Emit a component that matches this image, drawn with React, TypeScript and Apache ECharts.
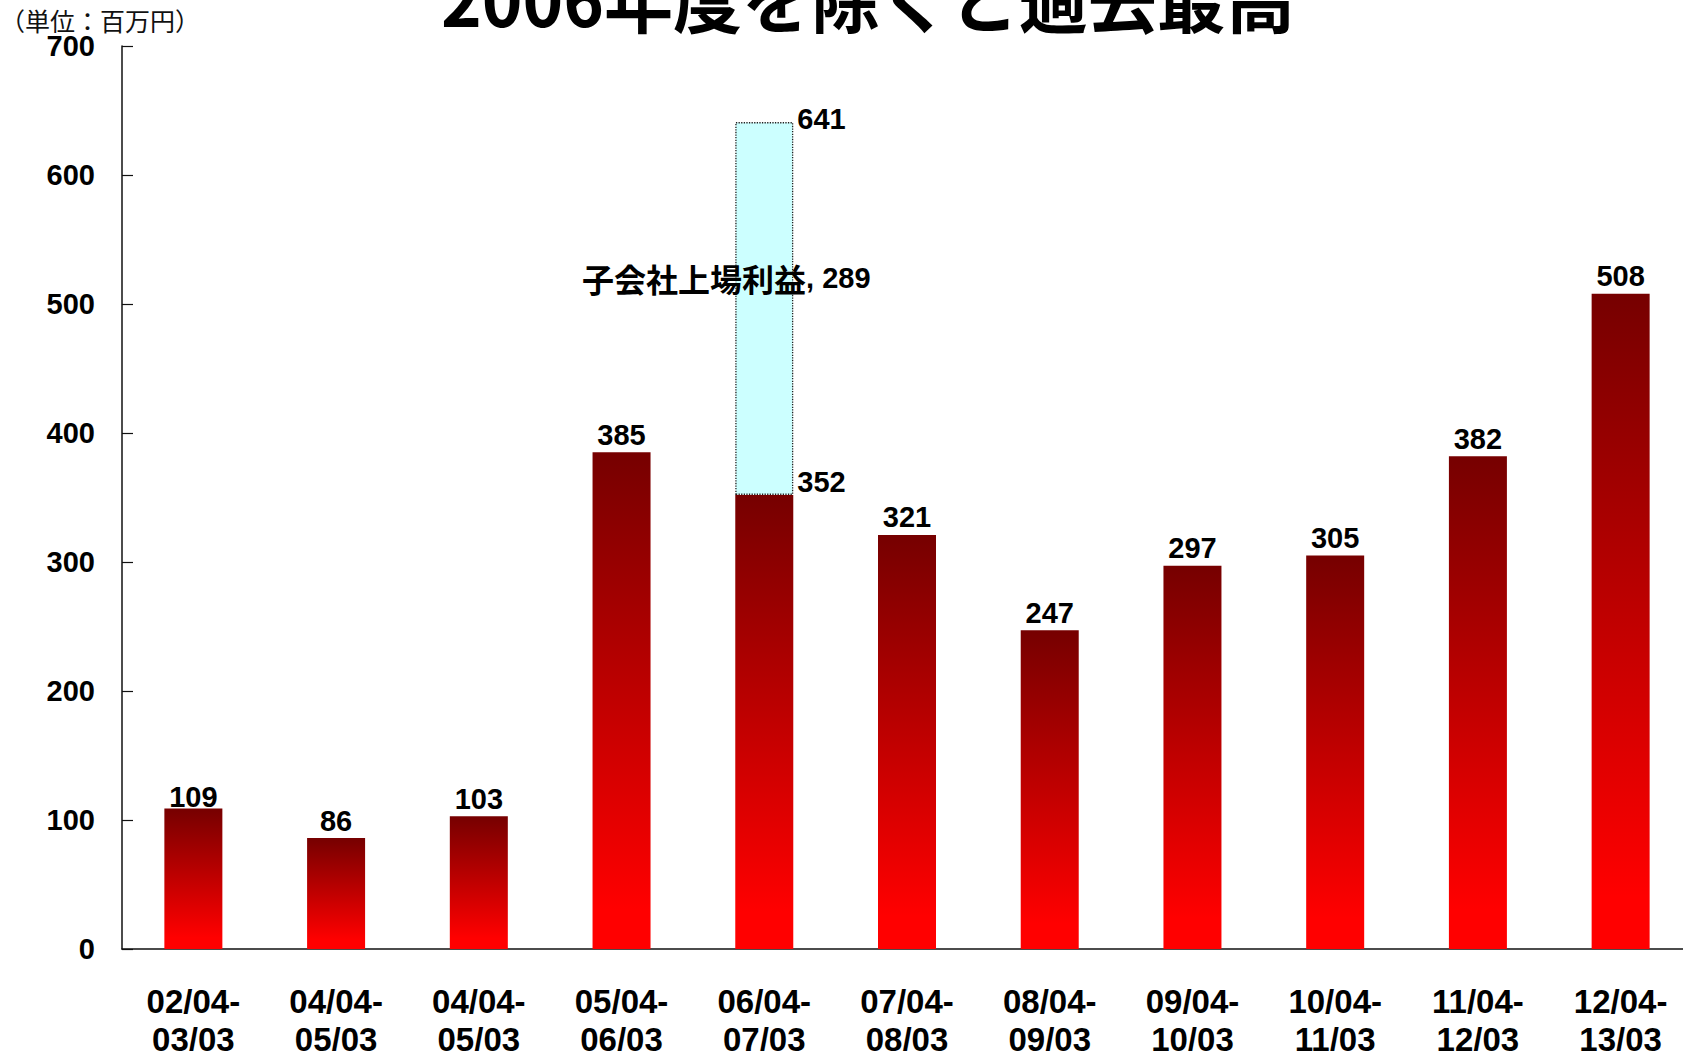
import React, { useEffect, useRef } from "react";
import * as echarts from "echarts";

const categories = [
  "02/04-\n03/03",
  "04/04-\n05/03",
  "04/04-\n05/03",
  "05/04-\n06/03",
  "06/04-\n07/03",
  "07/04-\n08/03",
  "08/04-\n09/03",
  "09/04-\n10/03",
  "10/04-\n11/03",
  "11/04-\n12/03",
  "12/04-\n13/03",
];
const profitValues = [109, 86, 103, 385, 352, 321, 247, 297, 305, 382, 508];
const listingGainValues: (number | null)[] = [null, null, null, null, 289, null, null, null, null, null, null];
const listingGainName = "子会社上場利益";
const yTicks = { min: 0, max: 700, interval: 100 };
const titleText = "2006年度を除くと過去最高";
const unitText = "（単位：百万円）";

const SANS = '"Liberation Sans", Arial, sans-serif';
const CJK = '"Noto Sans CJK JP", "Liberation Sans", sans-serif';

export default function App() {
  const ref = useRef<HTMLDivElement>(null);
  useEffect(() => {
    if (!ref.current) return;
    const chart = echarts.init(ref.current, null, { renderer: "svg" });
    const highlightIdx = listingGainValues.findIndex((v) => v != null);
    const total = profitValues[highlightIdx] + (listingGainValues[highlightIdx] as number);
    const totalMarker = profitValues.map((_, i) => (i === highlightIdx ? 0 : null));

    const gradient = new echarts.graphic.LinearGradient(0, 0, 0, 1, [
      { offset: 0, color: "#760000" },
      { offset: 0.92, color: "#ff0000" },
      { offset: 1, color: "#ff0000" },
    ]);

    const valueLabel = {
      fontFamily: SANS,
      fontWeight: "bold",
      fontSize: 29,
      lineHeight: 29,
      color: "#000",
    };

    const profitData = profitValues.map((v, i) => {
      if (i === highlightIdx) {
        return {
          value: v,
          label: {
            show: true,
            position: ["100%", 0],
            align: "left",
            verticalAlign: "middle",
            offset: [4, -13],
          },
        };
      }
      if (i === 0) {
        return { value: v, label: { offset: [0, 6] } };
      }
      return v;
    });

    chart.setOption({
      animation: false,
      backgroundColor: "#ffffff",
      textStyle: { fontFamily: SANS },
      grid: {
        left: 122,
        right: -9,
        top: 46,
        bottom: 102,
        containLabel: false,
        outerBoundsMode: "none",
      },
      graphic: [
        {
          type: "text",
          left: 0,
          top: 7,
          style: { text: unitText, font: `25px ${CJK}`, fill: "#111" },
        },
        {
          type: "text",
          x: 868,
          y: -5,
          scaleX: 0.96,
          style: {
            text: titleText,
            font: `bold 72px ${CJK}`,
            fill: "#000",
            align: "center",
            verticalAlign: "middle",
          },
        },
      ],
      xAxis: {
        type: "category",
        data: categories,
        axisLine: { lineStyle: { color: "#111", width: 1.5 } },
        axisTick: { inside: true, length: 11, alignWithLabel: false, lineStyle: { color: "#111", width: 1.2 } },
        axisLabel: {
          interval: 0,
          margin: 33,
          fontFamily: SANS,
          fontWeight: "bold",
          fontSize: 33,
          lineHeight: 38,
          color: "#000",
        },
        splitLine: { show: false },
      },
      yAxis: {
        type: "value",
        min: yTicks.min,
        max: yTicks.max,
        interval: yTicks.interval,
        axisLine: { show: true, lineStyle: { color: "#111", width: 1.5 } },
        axisTick: { show: true, inside: true, length: 11, lineStyle: { color: "#111", width: 1.2 } },
        axisLabel: { margin: 27, fontFamily: SANS, fontWeight: "bold", fontSize: 29, color: "#000" },
        splitLine: { show: false },
      },
      series: [
        {
          name: "利益",
          type: "bar",
          stack: "total",
          barWidth: 58,
          data: profitData,
          itemStyle: { color: gradient },
          label: { show: true, position: "top", distance: 3, ...valueLabel },
        },
        {
          name: listingGainName,
          type: "bar",
          stack: "total",
          barWidth: 58,
          data: listingGainValues,
          itemStyle: { color: "#ccffff", borderColor: "#222", borderWidth: 1.3, borderType: "dotted" },
          label: {
            show: true,
            position: "inside",
            offset: [-38, -31],
            formatter: (p: any) => `{c|${p.seriesName}}{n|, ${p.value}}`,
            rich: {
              c: { fontFamily: CJK, fontWeight: "bold", fontSize: 32, color: "#000" },
              n: { fontFamily: SANS, fontWeight: "bold", fontSize: 29, color: "#000" },
            },
          },
        },
        {
          name: "合計",
          type: "bar",
          stack: "total",
          barWidth: 58,
          data: totalMarker,
          itemStyle: { color: "rgba(0,0,0,0)" },
          label: {
            show: true,
            position: ["100%", 0],
            align: "left",
            verticalAlign: "middle",
            offset: [4, -3],
            formatter: () => `${total}`,
            ...valueLabel,
          },
        },
      ],
    });
    return () => chart.dispose();
  }, []);
  return <div ref={ref} style={{ width: 1683, height: 1051, position: "absolute", left: 0, top: 0 }} />;
}
